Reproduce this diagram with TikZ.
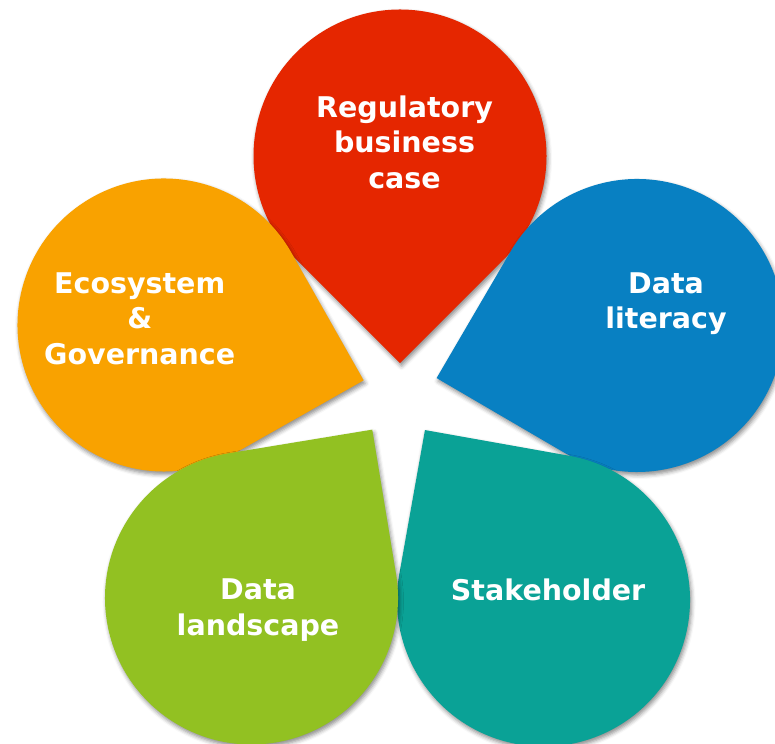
\documentclass[tikz,border=0pt]{standalone}
\usepackage{fontspec}
\setmainfont{DejaVu Sans}
\usetikzlibrary{shadows.blur}
\definecolor{dred}{HTML}{E52600}
\definecolor{dorange}{HTML}{F9A200}
\definecolor{dblue}{HTML}{0880C2}
\definecolor{dgreen}{HTML}{92C122}
\definecolor{dteal}{HTML}{0AA296}
\tikzset{
  petal/.style={fill=#1, blur shadow={shadow xshift=1.5pt, shadow yshift=-3pt, shadow blur radius=4pt, shadow opacity=45}},
  petaltext/.style={text=white, align=center, inner sep=0pt,
    font=\fontsize{28.5}{35.5}\selectfont\bfseries},
}
% #1 centre x, #2 centre y, #3 tip angle, #4 colour
\newcommand\petaldrop[4]{%
  \fill[petal=#4, shift={(#1,#2)}] (#3:207.2) -- (#3+45:146.5)
    arc[start angle=#3+45, delta angle=270, radius=146.5] -- cycle;}
\begin{document}
\begin{tikzpicture}[x=1pt,y=1pt]
\useasboundingbox (0,0) rectangle (775,743);
\clip (0,0) rectangle (775,743);
\petaldrop{400}{587}{-90}{dred}
\petaldrop{637}{417.5}{194.7}{dblue}
\petaldrop{164}{418}{-15.5}{dorange}
\petaldrop{543.5}{143}{124.9}{dteal}
\petaldrop{251.5}{145}{54.35}{dgreen}
\node[petaltext] (reg) at (404.5,597.4) {\strut Regulatory\\\strut business\\\strut case};
\node[petaltext] (lit) at (666,439) {\strut Data\\\strut literacy};
\node[petaltext] (eco) at (139.7,421.1) {\strut Ecosystem\\\strut \&\\\strut Governance};
\node[petaltext] (land) at (258,132.6) {\strut Data\\\strut landscape};
\node[petaltext] (stake) at (548.1,150) {\strut Stakeholder};
\end{tikzpicture}
\end{document}
